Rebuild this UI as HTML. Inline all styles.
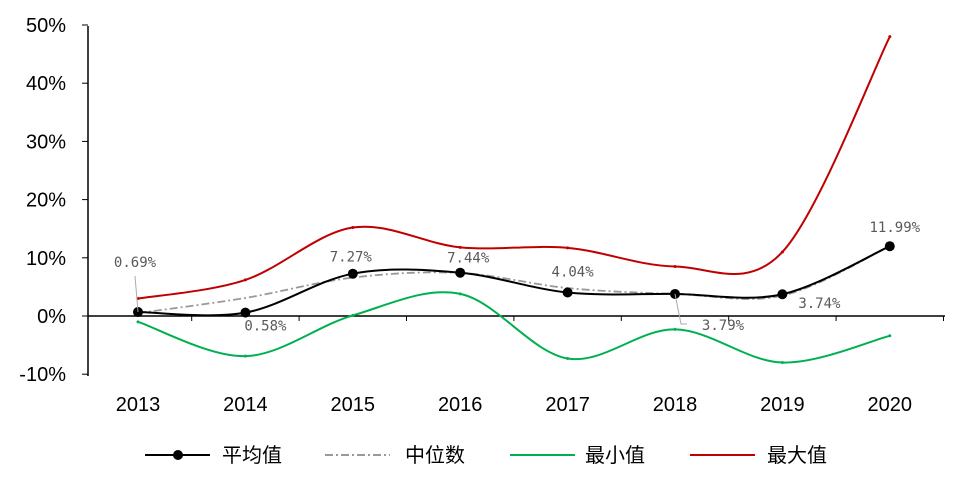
<!DOCTYPE html>
<html><head><meta charset="utf-8">
<style>
body{margin:0;background:#fff;}
svg{display:block;font-family:"Liberation Sans","Noto Sans CJK SC",sans-serif;}
.lbl{font-family:"DejaVu Sans Mono","Liberation Mono",monospace;font-size:14px;fill:#595959;}
</style></head><body>
<svg id="chart" width="957" height="477">
<g id="axes"></g><g id="series"></g><g id="labels"></g><g id="legend"></g>
</svg>
<script>
const years=["2013","2014","2015","2016","2017","2018","2019","2020"];
const meanVals=[0.69,0.58,7.27,7.44,4.04,3.79,3.74,11.99];
const medianVals=[0.5,3.1,6.6,7.4,4.8,3.8,3.5,12.0];
const minVals=[-1.0,-6.9,0.1,3.8,-7.3,-2.3,-8.0,-3.4];
const maxVals=[3.0,6.2,15.2,11.8,11.7,8.5,11.0,48.0];
const yTicks=[-10,0,10,20,30,40,50];
const meanLabels=["0.69%","0.58%","7.27%","7.44%","4.04%","3.79%","3.74%","11.99%"];
const labelOffsets=[[-3,-45],[20,18],[-2,-12],[8,-10],[5,-16],[48,36],[37,14],[5,-14]];

const NS="http://www.w3.org/2000/svg";
function el(t,a,p){const e=document.createElementNS(NS,t);for(const k in a)e.setAttribute(k,a[k]);p.appendChild(e);return e;}
const X=i=>138+i*107.4;
const Y=v=>316-v*5.82;
const axes=document.getElementById('axes');
let a=el('line',{x1:88,y1:26,x2:88,y2:376,stroke:'#000','stroke-width':1.5},axes);

a=el('line',{x1:88,y1:Y(0),x2:945,y2:Y(0),stroke:'#000','stroke-width':1.5},axes);

yTicks.forEach(v=>{
  el('line',{x1:82,x2:88,y1:Y(v),y2:Y(v),stroke:'#000'},axes);
  const t=el('text',{x:66,y:Y(v)+7,'text-anchor':'end','font-size':20,fill:'#000'},axes);
  t.textContent=v+'%';
  
});
years.forEach((y,i)=>{
  const t=el('text',{x:X(i),y:411,'text-anchor':'middle','font-size':20,fill:'#000'},axes);
  t.textContent=y;
  
  el('line',{x1:X(i)+53.7,x2:X(i)+53.7,y1:Y(0),y2:Y(0)+5,stroke:'#000'},axes);
});
function smooth(vals){
  const p=vals.map((v,i)=>[X(i),Y(v)]);
  let d='M'+p[0][0]+','+p[0][1];
  const k=1/6;
  for(let i=0;i<p.length-1;i++){
    const p0=p[i-1]||p[i],p1=p[i],p2=p[i+1],p3=p[i+2]||p2;
    d+=' C'+(p1[0]+(p2[0]-p0[0])*k)+','+(p1[1]+(p2[1]-p0[1])*k)+' '+(p2[0]-(p3[0]-p1[0])*k)+','+(p2[1]-(p3[1]-p1[1])*k)+' '+p2[0]+','+p2[1];
  }
  return d;
}
const S=document.getElementById('series');
function series(vals,color,name,dash,w,dot){
  const p=el('path',{d:smooth(vals),fill:'none',stroke:color,'stroke-width':w,'stroke-dasharray':dash||'none'},S);
  
  vals.forEach((v,i)=>{
    const c=el('circle',{cx:X(i),cy:Y(v),r:dot,fill:color},S);
    
  });
}
series(maxVals,'#c00000','max',null,2,1.5);
series(minVals,'#00b050','min',null,2,1.5);
series(medianVals,'#999999','median','8,3,2,3',1.8,0);
series(meanVals,'#000000','mean',null,2,5);
const L=document.getElementById('labels');
meanVals.forEach((v,i)=>{
  const o=labelOffsets[i];
  const t=el('text',{x:X(i)+o[0],y:Y(v)+o[1],'text-anchor':'middle',class:'lbl'},L);
  t.textContent=meanLabels[i];
  
});
el('polyline',{points:[X(0),Y(meanVals[0]),X(0)-3,276].join(','),fill:'none',stroke:'#aaa'},L);
el('polyline',{points:[X(5),Y(meanVals[5]),X(5)+6,324,X(5)+12,324].join(' '),fill:'none',stroke:'#aaa'},L);
const G=document.getElementById('legend');
[['平均值','#000',null,5,145,222],['中位数','#999','8,3,2,3',0,325,405],['最小值','#00b050',null,0,510,585],['最大值','#c00000',null,0,690,767]].forEach(e=>{
  const g=el('g',{},G);
  
  el('line',{x1:e[4],x2:e[4]+65,y1:455,y2:455,stroke:e[1],'stroke-width':2,'stroke-dasharray':e[2]||'none'},g);
  if(e[3])el('circle',{cx:e[4]+33,cy:455,r:e[3],fill:e[1]},g);
  const t=el('text',{x:e[5],y:462,'font-size':20,fill:'#000'},g);t.textContent=e[0];
});
</script>
</body></html>
